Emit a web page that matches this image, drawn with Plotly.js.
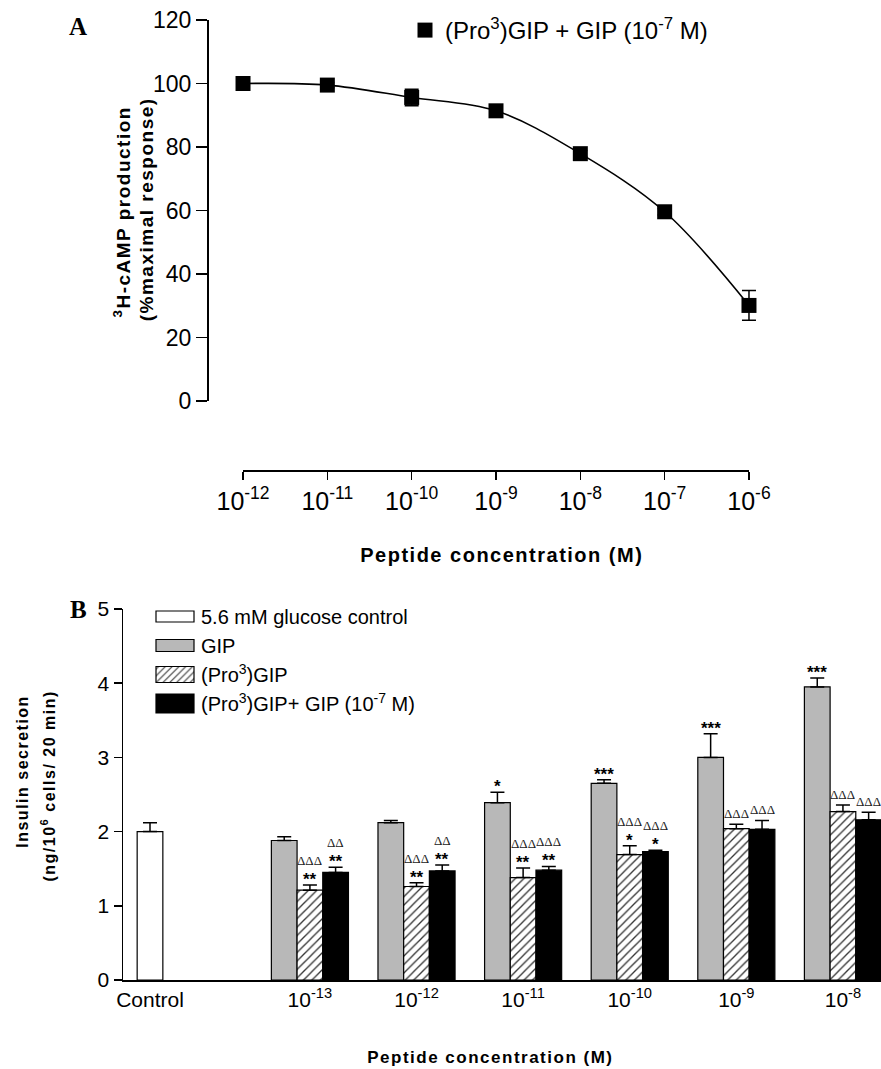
<!DOCTYPE html>
<html><head><meta charset="utf-8">
<script src="https://cdn.plot.ly/plotly-3.0.1.min.js"></script>
<style>
body{margin:0;background:#fff}
#chart{width:881px;height:1069px}
.annotation[data-index="0"] text,.annotation[data-index="1"] text,.annotation[data-index="2"] text,
.annotation[data-index="4"] text,.annotation[data-index="5"] text,.annotation[data-index="6"] text{letter-spacing:1.5px}
</style>
</head><body><div id="chart"></div>
<script>
// ---------- Panel A data ----------
const concA = [1e-12, 1e-11, 1e-10, 1e-9, 1e-8, 1e-7, 1e-6];
const concALabels = ['10<sup>-12</sup>','10<sup>-11</sup>','10<sup>-10</sup>','10<sup>-9</sup>','10<sup>-8</sup>','10<sup>-7</sup>','10<sup>-6</sup>'];
const campResp = [100.0, 99.5, 95.6, 91.4, 77.9, 59.6, 30.1];
const campErr  = [0.6, 0.8, 2.6, 0.9, 1.0, 1.0, 4.7];
const seriesA = '(Pro<sup>3</sup>)GIP + GIP (10<sup>-7</sup> M)';

// ---------- Panel B data ----------
const categoriesB = ['Control','10<sup>-13</sup>','10<sup>-12</sup>','10<sup>-11</sup>','10<sup>-10</sup>','10<sup>-9</sup>','10<sup>-8</sup>'];
const controlVal = [2.00];
const controlErr = [0.12];
const gipVal   = [1.88, 2.12, 2.39, 2.65, 3.00, 3.95];
const gipErr   = [0.05, 0.03, 0.14, 0.05, 0.32, 0.12];
const pro3Val  = [1.21, 1.26, 1.38, 1.69, 2.04, 2.27];
const pro3Err  = [0.07, 0.05, 0.13, 0.12, 0.06, 0.09];
const comboVal = [1.45, 1.47, 1.48, 1.73, 2.03, 2.16];
const comboErr = [0.07, 0.08, 0.05, 0.02, 0.12, 0.10];
const gipStars   = ['', '', '*', '***', '***', '***'];
const pro3Stars  = ['**', '**', '**', '*', '', ''];
const pro3Delta  = ['ΔΔΔ','ΔΔΔ','ΔΔΔ','ΔΔΔ','ΔΔΔ','ΔΔΔ'];
const comboStars = ['**', '**', '**', '*', '', ''];
const comboDelta = ['ΔΔ','ΔΔ','ΔΔΔ','ΔΔΔ','ΔΔΔ','ΔΔΔ'];
const namesB = ['5.6 mM glucose control','GIP','(Pro<sup>3</sup>)GIP','(Pro<sup>3</sup>)GIP+ GIP (10<sup>-7</sup> M)'];

// ---------- helpers ----------
const W = 881, H = 1069;
const fx = px => px / W;
const fy = py => 1 - py / H;
const catPos = categoriesB.map((c, i) => i === 0 ? 0 : i + 0.5);
const grpPos = catPos.slice(1);
const BW = 0.241;
const offs = [-1.5 * BW, -0.5 * BW, 0.5 * BW];
const zeros = n => new Array(n).fill(0);
const errStyle = {color:'#000', thickness:1.5, width:7};
const SANS = 'Liberation Sans, Arial, sans-serif';
const NARROW = 'Liberation Sans Narrow, Arial Narrow, Liberation Sans, Arial, sans-serif';

const traces = [
  {x: concA, y: campResp, mode:'lines', line:{shape:'spline', color:'#000', width:1.6},
   showlegend:false, hoverinfo:'skip', cliponaxis:false},
  {x: concA, y: campResp, mode:'markers', name: seriesA, legend:'legend2',
   marker:{symbol:'square', size:15, color:'#000'}, cliponaxis:false,
   error_y:{type:'data', array: campErr, width:7, color:'#000', thickness:1.5}},
  {type:'bar', x:[catPos[0]], y: controlVal, name: namesB[0], xaxis:'x2', yaxis:'y2', legendgroup:'g0',
   width:BW, offset:-0.5 * BW, marker:{color:'#fff', line:{color:'#000', width:1.2}},
   error_y:Object.assign({type:'data', array: controlErr, arrayminus: zeros(1), symmetric:false}, errStyle)},
  {type:'bar', x: grpPos, y: gipVal, name: namesB[1], xaxis:'x2', yaxis:'y2', legendgroup:'g1',
   width:BW, offset:offs[0], marker:{color:'#b8b8b8', line:{color:'#000', width:1.2}},
   error_y:Object.assign({type:'data', array: gipErr, arrayminus: zeros(6), symmetric:false}, errStyle)},
  {type:'bar', x: grpPos, y: pro3Val, name: namesB[2], xaxis:'x2', yaxis:'y2', legendgroup:'g2',
   width:BW, offset:offs[1], marker:{color:'#fff', line:{color:'#000', width:1.2},
   pattern:{shape:'/', fgcolor:'#333', bgcolor:'#fff', size:6, solidity:0.22}},
   error_y:Object.assign({type:'data', array: pro3Err, arrayminus: zeros(6), symmetric:false}, errStyle)},
  {type:'bar', x: grpPos, y: comboVal, name: namesB[3], xaxis:'x2', yaxis:'y2', legendgroup:'g3',
   width:BW, offset:offs[2], marker:{color:'#000', line:{color:'#000', width:1.2}},
   error_y:Object.assign({type:'data', array: comboErr, arrayminus: zeros(6), symmetric:false}, errStyle)}
];

const boldFont = (s) => ({family:SANS, size:s, color:'#000', weight:'bold'});
const serifBold = {family:'Liberation Serif, Times New Roman, serif', size:25, color:'#000', weight:'bold'};
const annotations = [
  {text:'<b><sup>3</sup>H-cAMP production</b>', x:fx(122), y:fy(212), textangle:-90, font:boldFont(19)},
  {text:'<b>(%maximal response)</b>', x:fx(147), y:fy(210), textangle:-90, font:boldFont(19)},
  {text:'<b>Peptide concentration (M)</b>', x:fx(502), y:fy(555), font:boldFont(20)},
  {text:'<b>A</b>', x:fx(78), y:fy(26), font:serifBold},
  {text:'<b>Insulin secretion</b>', x:fx(22), y:fy(772), textangle:-90, font:boldFont(16)},
  {text:'<b>(ng/10<sup>6</sup> cells/ 20 min)</b>', x:fx(48), y:fy(786), textangle:-90, font:boldFont(16)},
  {text:'<b>Peptide concentration (M)</b>', x:fx(490), y:fy(1057), font:boldFont(17)},
  {text:'<b>B</b>', x:fx(78), y:fy(609), font:serifBold}
].map(a => Object.assign({xref:'paper', yref:'paper', showarrow:false, xanchor:'center', yanchor:'middle'}, a));

const starFont = {family:SANS, size:17, color:'#000', weight:'bold'};
const deltaFont = {family:'Liberation Serif, Times New Roman, serif', size:13, color:'#222'};
function addMarks(vals, errs, stars, deltas, off) {
  vals.forEach((v, i) => {
    const top = v + errs[i];
    const xc = grpPos[i] + off + BW / 2;
    if (stars[i]) annotations.push({xref:'x2', yref:'y2', x:xc, y:top, text:stars[i], showarrow:false,
      xanchor:'center', yanchor:'bottom', yshift:-6, font:starFont});
    if (deltas && deltas[i]) annotations.push({xref:'x2', yref:'y2', x:xc, y:top, text:deltas[i], showarrow:false,
      xanchor:'center', yanchor:'bottom', yshift: stars[i] ? 15 : 1, font:deltaFont});
  });
}
addMarks(gipVal, gipErr, gipStars, null, offs[0]);
addMarks(pro3Val, pro3Err, pro3Stars, pro3Delta, offs[1]);
addMarks(comboVal, comboErr, comboStars, comboDelta, offs[2]);

const axBase = {showline:true, linecolor:'#000', linewidth:1.5, showgrid:false, zeroline:false,
  tickcolor:'#000', tickwidth:1.5, fixedrange:true};

const layout = {
  width:W, height:H, margin:{l:0, r:0, t:0, b:0},
  paper_bgcolor:'#fff', plot_bgcolor:'rgba(0,0,0,0)',
  font:{family:SANS, color:'#000'},
  barmode:'overlay', showlegend:true, hovermode:false,
  xaxis:Object.assign({}, axBase, {type:'log', domain:[fx(243), fx(749)], range:[-12.0002, -5.9998],
    anchor:'free', position:fy(470), ticks:'outside', ticklen:8,
    tickvals:concA, ticktext:concALabels, tickfont:{family:NARROW, size:25}}),
  yaxis:Object.assign({}, axBase, {domain:[fy(401), fy(20)], range:[0, 120], dtick:20,
    anchor:'free', position:fx(207), ticks:'outside', ticklen:11, tickfont:{family:NARROW, size:23}}),
  xaxis2:Object.assign({}, axBase, {domain:[fx(123), 1], range:[-0.2533, 6.857], anchor:'y2',
    ticks:'', tickvals:catPos, ticktext:categoriesB, tickfont:{family:NARROW, size:21}}),
  yaxis2:Object.assign({}, axBase, {domain:[fy(980), fy(609)], range:[0, 5], dtick:1,
    anchor:'x2', ticks:'outside', ticklen:8, tickfont:{family:NARROW, size:21}}),
  legend:{x:fx(141), y:fy(597), xanchor:'left', yanchor:'top', bgcolor:'rgba(0,0,0,0)',
    font:{size:20}, itemwidth:50, tracegroupgap:4, traceorder:'normal'},
  legend2:{x:fx(405), y:fy(8), xanchor:'left', yanchor:'top', bgcolor:'rgba(0,0,0,0)',
    font:{size:24}, itemwidth:30},
  annotations
};

Plotly.newPlot('chart', traces, layout, {staticPlot:true, displayModeBar:false}).then(gd => {
  const halfH = [5.5, 6, 8, 9.5];
  const items = gd.querySelectorAll('g.legend g.traces');
  items.forEach((g, i) => {
    const p = g.querySelector('g.legendpoints path');
    if (p) { const h = halfH[i] || 6; p.setAttribute('d', `M-15,${-h}H23V${h}H-15Z`); }
  });
  // let the panel A error bars show past the plot edge, like the scatter markers
  gd.querySelectorAll('.subplot.xy [clip-path]').forEach(e => e.removeAttribute('clip-path'));
});
</script>
</body></html>
